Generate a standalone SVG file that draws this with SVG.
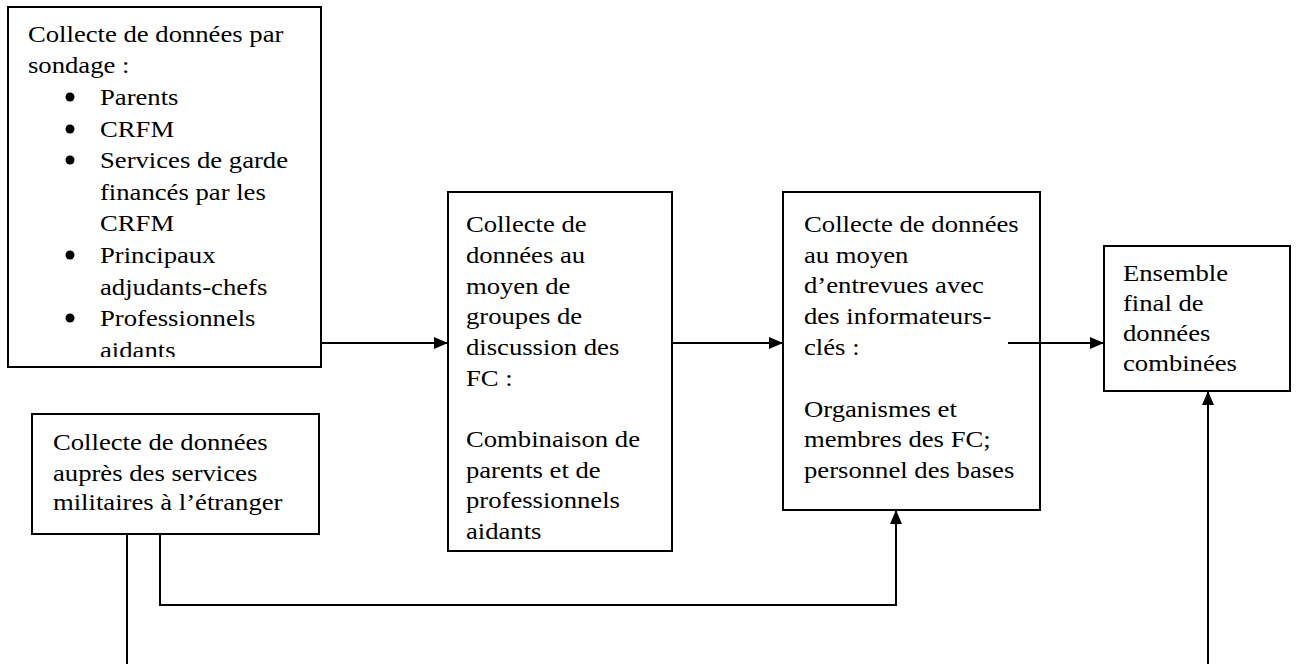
<svg xmlns="http://www.w3.org/2000/svg" width="1300" height="664" viewBox="0 0 1300 664">
<style>
.box{fill:#fff;stroke:#000;stroke-width:2}
.t{font-family:"Liberation Serif","Times New Roman",serif;font-size:23px;fill:#000}
.ln{fill:none;stroke:#000;stroke-width:2}
</style>
<defs>
<marker id="ah" markerUnits="userSpaceOnUse" markerWidth="14" markerHeight="12" refX="14" refY="6" orient="auto">
<path d="M0,0 L14,6 L0,12 z" fill="#000"/>
</marker>
<clipPath id="c1"><rect x="9" y="8" width="311" height="349"/></clipPath>
</defs>
<rect width="1300" height="664" fill="#fff"/>
<g id="n1">
<rect class="box" x="8" y="7" width="313" height="360"/>
<g clip-path="url(#c1)">
<g class="t" transform="matrix(1.16 0 0 1 -4.5 0)">
<text x="28" y="42">Collecte de données par</text>
<text x="28" y="73">sondage :</text>
</g>
<g transform="translate(0 0)">
<circle cx="70" cy="97" r="4.5"/>
<circle cx="70" cy="129" r="4.5"/>
<circle cx="70" cy="160" r="4.5"/>
<circle cx="70" cy="255" r="4.5"/>
<circle cx="70" cy="318" r="4.5"/>
</g>
<g class="t" transform="matrix(1.16 0 0 1 -16 0)">
<text x="100" y="105">Parents</text>
<text x="100" y="137">CRFM</text>
<text x="100" y="168">Services de garde</text>
<text x="100" y="200">financés par les</text>
<text x="100" y="231">CRFM</text>
<text x="100" y="263">Principaux</text>
<text x="100" y="295">adjudants-chefs</text>
<text x="100" y="326">Professionnels</text>
<text x="100" y="358">aidants</text>
</g>
</g>
</g>
<g id="n2">
<rect class="box" x="448" y="192" width="224" height="359"/>
<g class="t" transform="matrix(1.16 0 0 1 -74.6 0)">
<text x="466" y="232">Collecte de</text>
<text x="466" y="263">données au</text>
<text x="466" y="294">moyen de</text>
<text x="466" y="324">groupes de</text>
<text x="466" y="355">discussion des</text>
<text x="466" y="386">FC :</text>
<text x="466" y="447">Combinaison de</text>
<text x="466" y="478">parents et de</text>
<text x="466" y="508">professionnels</text>
<text x="466" y="539">aidants</text>
</g>
</g>
<g id="n3">
<rect class="box" x="783" y="192" width="257" height="318"/>
<g class="t" transform="matrix(1.16 0 0 1 -128.6 0)">
<text x="804" y="232">Collecte de données</text>
<text x="804" y="263">au moyen</text>
<text x="804" y="293">d’entrevues avec</text>
<text x="804" y="324">des informateurs-</text>
<text x="804" y="355">clés :</text>
<text x="804" y="417">Organismes et</text>
<text x="804" y="447">membres des FC;</text>
<text x="804" y="478">personnel des bases</text>
</g>
</g>
<g id="n4">
<rect class="box" x="1104" y="246" width="186" height="145"/>
<g class="t" transform="matrix(1.16 0 0 1 -179.7 0)">
<text x="1123" y="281">Ensemble</text>
<text x="1123" y="311">final de</text>
<text x="1123" y="341">données</text>
<text x="1123" y="371">combinées</text>
</g>
</g>
<g id="n5">
<rect class="box" x="32" y="414" width="287" height="120"/>
<g class="t" transform="matrix(1.16 0 0 1 -8.5 0)">
<text x="53" y="450">Collecte de données</text>
<text x="53" y="481">auprès des services</text>
<text x="53" y="510">militaires à l’étranger</text>
</g>
</g>
<g id="connectors">
<path class="ln" d="M321,343 H448" marker-end="url(#ah)"/>
<path class="ln" d="M672,343 H783" marker-end="url(#ah)"/>
<path class="ln" d="M1008,343 H1104" marker-end="url(#ah)"/>
<path class="ln" d="M160,534 V605 H896 V510" marker-end="url(#ah)"/>
<path class="ln" d="M127,534 V664"/>
<path class="ln" d="M1208,664 V391" marker-end="url(#ah)"/>
</g>
</svg>
